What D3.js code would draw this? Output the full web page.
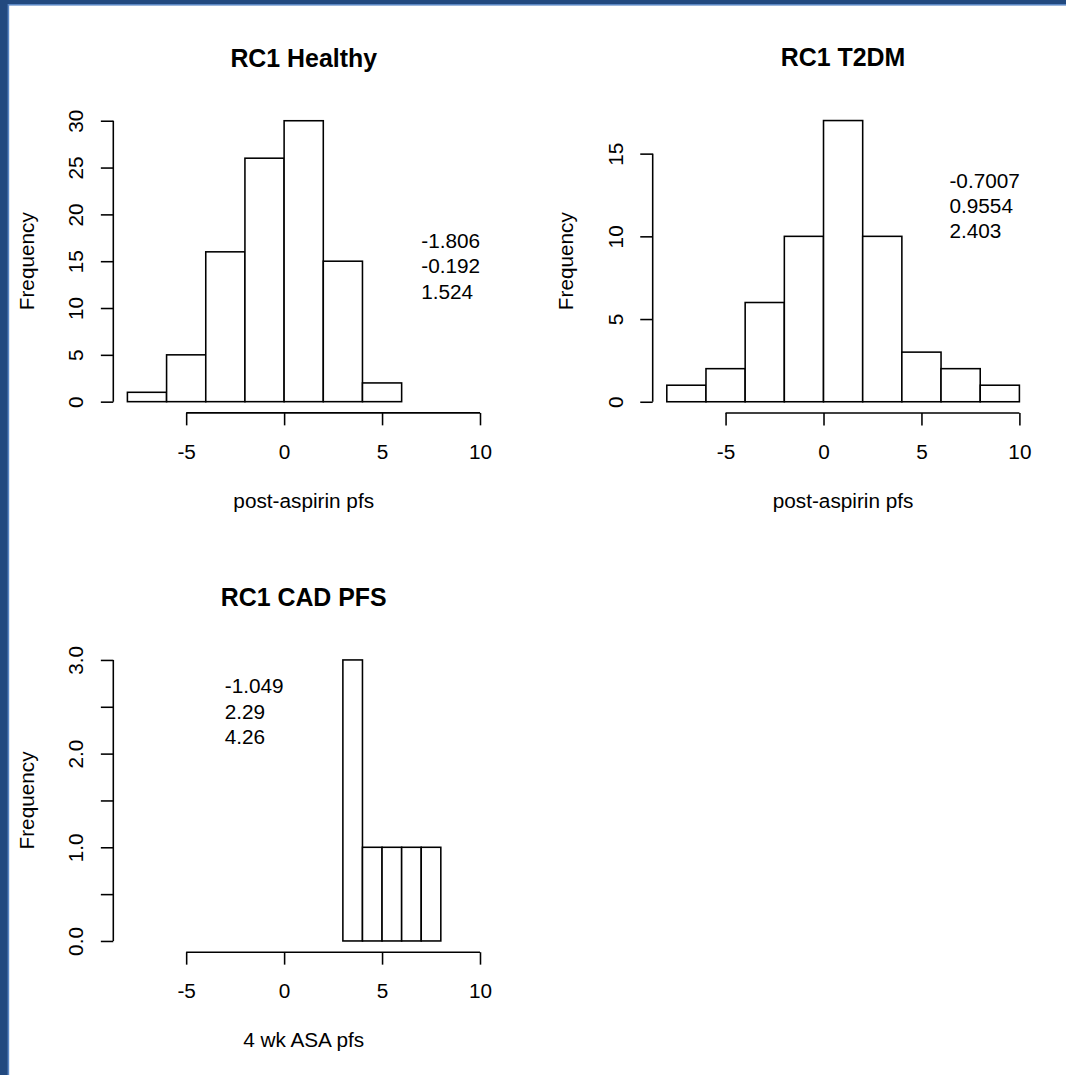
<!DOCTYPE html>
<html>
<head>
<meta charset="utf-8">
<script src="https://cdn.jsdelivr.net/npm/d3@7"></script>
<style>
  html, body { margin: 0; padding: 0; background: #ffffff; }
  svg text { font-family: "Liberation Sans", Arial, Helvetica, sans-serif; fill: #000; }
</style>
</head>
<body>
<div id="chart"></div>
<script>
// histogram bins and counts
const healthyBreaks = [-8, -6, -4, -2, 0, 2, 4, 6];
const healthyCounts = [1, 5, 16, 26, 30, 15, 2];
const t2dmBreaks = [-8, -6, -4, -2, 0, 2, 4, 6, 8, 10];
const t2dmCounts = [1, 2, 6, 10, 17, 10, 3, 2, 1];
const cadBreaks = [3, 4, 5, 6, 7, 8];
const cadCounts = [3, 1, 1, 1, 1];

// printed quantiles in each panel
const healthyStats = ["-1.806", "-0.192", "1.524"];
const t2dmStats = ["-0.7007", "0.9554", "2.403"];
const cadStats = ["-1.049", "2.29", "4.26"];

// axis ticks
const xTicks = [-5, 0, 5, 10];
const healthyYTicks = [0, 5, 10, 15, 20, 25, 30];
const t2dmYTicks = [0, 5, 10, 15];
const cadYTicks = [0, 0.5, 1, 1.5, 2, 2.5, 3];
const cadYLabels = ["0.0", "", "1.0", "", "2.0", "", "3.0"];

const titles = ["RC1 Healthy", "RC1 T2DM", "RC1 CAD PFS"];
const xLabels = ["post-aspirin pfs", "post-aspirin pfs", "4 wk ASA pfs"];
const yLabel = "Frequency";

const W = 1066, H = 1075;
const lineH = 24.9;      // one margin line (R style)
const fontSize = 20.75;
const lwd = 1.56;

const svg = d3.select("#chart").append("svg")
    .attr("width", W)
    .attr("height", H);

svg.append("rect").attr("width", W).attr("height", H).attr("fill", "#ffffff");

// window frame, dark strip on top and left with a lighter inner line
svg.append("rect").attr("x", 0).attr("y", 0).attr("width", W).attr("height", 4).attr("fill", "#22497f");
svg.append("rect").attr("x", 0).attr("y", 0).attr("width", 8).attr("height", H).attr("fill", "#22497f");
svg.append("rect").attr("x", 8).attr("y", 4).attr("width", W - 8).attr("height", 1.6).attr("fill", "#5b87c4");
svg.append("rect").attr("x", 7.6).attr("y", 4).attr("width", 1.6).attr("height", H - 4).attr("fill", "#5b87c4");

function drawPanel(cfg) {
    const g = svg.append("g");
    const xr = cfg.xlim[1] - cfg.xlim[0];
    const yr = cfg.ylim[1] - cfg.ylim[0];

    const x = d3.scaleLinear()
        .domain([cfg.xlim[0] - 0.04 * xr, cfg.xlim[1] + 0.04 * xr])
        .range([cfg.left, cfg.right]);
    const y = d3.scaleLinear()
        .domain([cfg.ylim[0] - 0.04 * yr, cfg.ylim[1] + 0.04 * yr])
        .range([cfg.bottom, cfg.top]);

    // bars
    const bins = cfg.counts.map((c, i) => ({x0: cfg.breaks[i], x1: cfg.breaks[i + 1], n: c}));
    g.selectAll("rect.bar")
        .data(bins)
        .enter()
        .append("rect")
        .attr("class", "bar")
        .attr("x", d => x(d.x0))
        .attr("y", d => y(d.n))
        .attr("width", d => x(d.x1) - x(d.x0))
        .attr("height", d => y(0) - y(d.n))
        .attr("fill", "#ffffff")
        .attr("stroke", "#000")
        .attr("stroke-width", lwd);

    // x axis
    const xAxis = g.append("g")
        .attr("transform", `translate(0,${cfg.bottom})`)
        .call(d3.axisBottom(x).tickValues(xTicks).tickSize(lineH / 2).tickFormat(d3.format("d")));
    xAxis.select(".domain").remove();
    xAxis.append("line")
        .attr("x1", x(xTicks[0])).attr("x2", x(xTicks[xTicks.length - 1]))
        .attr("stroke", "#000").attr("stroke-width", lwd);
    xAxis.selectAll(".tick line").attr("stroke-width", lwd);
    xAxis.selectAll(".tick text")
        .attr("y", 1.85 * lineH)
        .attr("dy", null)
        .attr("font-size", fontSize)
        .attr("font-family", null)
        .text(d => d < 0 ? "-" + Math.abs(d) : d);
    xAxis.attr("font-family", null).attr("font-size", null);

    // y axis
    const yAxis = g.append("g")
        .attr("transform", `translate(${cfg.left},0)`)
        .call(d3.axisLeft(y).tickValues(cfg.yTicks).tickSize(lineH / 2)
            .tickFormat((d, i) => cfg.yLabels[i]));
    yAxis.select(".domain").remove();
    yAxis.append("line")
        .attr("y1", y(cfg.yTicks[0])).attr("y2", y(cfg.yTicks[cfg.yTicks.length - 1]))
        .attr("stroke", "#000").attr("stroke-width", lwd);
    yAxis.selectAll(".tick line").attr("stroke-width", lwd);
    yAxis.selectAll(".tick text")
        .attr("x", 0).attr("y", 0).attr("dy", null)
        .attr("text-anchor", "middle")
        .attr("font-size", fontSize)
        .attr("transform", `translate(${-1.2 * lineH},0) rotate(-90)`);
    yAxis.attr("font-family", null).attr("font-size", null);

    // title and axis labels
    g.append("text")
        .attr("x", (cfg.left + cfg.right) / 2)
        .attr("y", cfg.top - 1.72 * lineH)
        .attr("text-anchor", "middle")
        .attr("font-size", fontSize * 1.2)
        .attr("font-weight", "bold")
        .text(cfg.title);

    g.append("text")
        .attr("x", (cfg.left + cfg.right) / 2)
        .attr("y", cfg.bottom + 3.8 * lineH)
        .attr("text-anchor", "middle")
        .attr("font-size", fontSize)
        .text(cfg.xLabel);

    g.append("text")
        .attr("transform", `translate(${cfg.left - 3.2 * lineH},${(cfg.top + cfg.bottom) / 2}) rotate(-90)`)
        .attr("text-anchor", "middle")
        .attr("font-size", fontSize)
        .text(yLabel);

    // quantile text, one value per line
    g.selectAll("text.stat")
        .data(cfg.stats)
        .enter()
        .append("text")
        .attr("class", "stat")
        .attr("x", x(cfg.statAt[0]))
        .attr("y", (d, i) => y(cfg.statAt[1]) + i * 25.4)
        .attr("font-size", fontSize)
        .text(d => d);
}

drawPanel({
    breaks: healthyBreaks, counts: healthyCounts, stats: healthyStats, statAt: [7.0, 16.4],
    xlim: [-8, 10], ylim: [0, 30], yTicks: healthyYTicks, yLabels: healthyYTicks.map(String),
    left: 113.3, right: 494.1, top: 109.5, bottom: 412.9,
    title: titles[0], xLabel: xLabels[0]
});

drawPanel({
    breaks: t2dmBreaks, counts: t2dmCounts, stats: t2dmStats, statAt: [6.43, 12.95],
    xlim: [-8, 10], ylim: [0, 17], yTicks: t2dmYTicks, yLabels: t2dmYTicks.map(String),
    left: 652.7, right: 1033.5, top: 109.3, bottom: 413.0,
    title: titles[1], xLabel: xLabels[1]
});

drawPanel({
    breaks: cadBreaks, counts: cadCounts, stats: cadStats, statAt: [-3.03, 2.644],
    xlim: [-8, 10], ylim: [0, 3], yTicks: cadYTicks, yLabels: cadYLabels,
    left: 113.3, right: 494.1, top: 648.7, bottom: 952.2,
    title: titles[2], xLabel: xLabels[2]
});
</script>
</body>
</html>
